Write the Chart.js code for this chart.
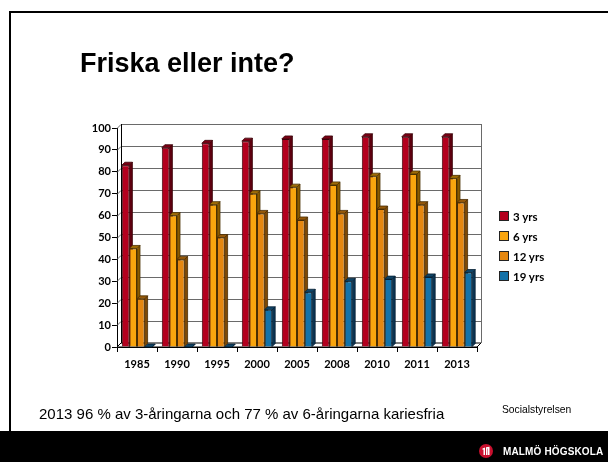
<!DOCTYPE html>
<html><head><meta charset="utf-8">
<script src="https://cdn.jsdelivr.net/npm/chart.js@4"></script>
<style>
html,body{margin:0;padding:0;background:#fff;}
#wrap{position:relative;width:608px;height:462px;overflow:hidden;background:#fff;}
#c{position:absolute;left:0;top:0;}
.abs{position:absolute;white-space:nowrap;}
#topline{left:9px;top:11px;width:599px;height:2px;background:#000;}
#leftline{left:9px;top:11px;width:2px;height:420px;background:#000;}
#footer{left:0;top:431px;width:608px;height:31px;background:#000;}
#title{left:80px;top:50px;font:bold 27px/27px "Liberation Sans",Arial,sans-serif;color:#000;}
#note{left:39px;top:406px;font:15px/15px "Liberation Sans",Arial,sans-serif;color:#000;}
#src{left:502px;top:405px;font:10.3px/10.3px "Liberation Sans",Arial,sans-serif;color:#000;}
#logoText{left:503px;top:447px;font:bold 10px/10px "Liberation Sans",Arial,sans-serif;color:#fff;letter-spacing:0.15px;}
#logo{left:479px;top:444px;width:14px;height:14px;border-radius:50%;background:#c8102e;}
#legend{left:499px;top:206px;font:bold 11.5px "Lato",sans-serif;color:#000;}
.li{height:20px;display:flex;align-items:center;}
.sw{width:8px;height:8px;border:1px solid #222;margin-right:4px;}
</style></head>
<body>
<div id="wrap">
  <canvas id="c" width="608" height="462"></canvas>
  <div class="abs" id="topline"></div>
  <div class="abs" id="leftline"></div>
  <div class="abs" id="title">Friska eller inte?</div>
  <div class="abs" id="legend"></div>
  <div class="abs" id="note">2013 96 % av 3-åringarna och 77 % av 6-åringarna kariesfria</div>
  <div class="abs" id="src">Socialstyrelsen</div>
  <div class="abs" id="footer"></div>
  <div class="abs" id="logo"><svg width="14" height="14" viewBox="0 0 14 14"><path d="M3.5 4.5 L6 3.5 L6 11 L4.5 11 L4.5 5.5 L3.5 5.8 Z M7 3.3 L10.5 2.8 L10.5 11 L9 11 L9 4.5 L8.5 4.6 L8.5 11 L7 11 Z" fill="#fff"/></svg></div>
  <div class="abs" id="logoText">MALMÖ HÖGSKOLA</div>
</div>
<script>
const categories = ['1985','1990','1995','2000','2005','2008','2010','2011','2013'];
const seriesNames = ['3 yrs','6 yrs','12 yrs','19 yrs'];
const yrs3  = [83, 91, 93, 94, 95, 95, 96, 96, 96];
const yrs6  = [45, 60, 65, 70, 73, 74, 78, 79, 77];
const yrs12 = [22, 40, 50, 61, 58, 61, 63, 65, 66];
const yrs19 = [0, 0, 0, 17, 25, 30, 31, 32, 34];
const yTicks = [0,10,20,30,40,50,60,70,80,90,100];

const frontColors = ['#B3001E','#F9A50E','#E5870F','#1472A8'];
const sideColors  = ['#5E000F','#8A5A00','#7F4A06','#0B3553'];
const topColors   = ['#7A0014','#A06C06','#955809','#0E4466'];
const edgeColors  = ['#3A0008','#4A3000','#4A2C02','#062033'];

const seriesValues = [yrs3, yrs6, yrs12, yrs19];

// legend (HTML text)
const leg = document.getElementById('legend');
seriesNames.forEach((n,i)=>{
  const d=document.createElement('div'); d.className='li';
  const s=document.createElement('div'); s.className='sw'; s.style.background=frontColors[i];
  const t=document.createElement('span'); t.textContent=n;
  d.appendChild(s); d.appendChild(t); leg.appendChild(d);
});

const WALL = 4, D = 3;
const threeD = {
  id: 'threeD',
  beforeDatasetsDraw(chart){
    const {ctx, chartArea:a, scales:{y}} = chart;
    ctx.save();
    ctx.lineWidth = 1;
    ctx.strokeStyle = '#6a6a6a';
    yTicks.forEach(v=>{
      const py = Math.round(y.getPixelForValue(v)) + 0.5;
      ctx.beginPath();
      ctx.moveTo(a.left, py);
      ctx.lineTo(a.left + WALL, py - WALL);
      ctx.lineTo(a.right + WALL, py - WALL);
      ctx.stroke();
    });
    ctx.beginPath();
    ctx.moveTo(a.right + WALL + 0.5, a.top - WALL);
    ctx.lineTo(a.right + WALL + 0.5, a.bottom - WALL);
    ctx.stroke();
    ctx.strokeStyle = '#000';
    ctx.beginPath();
    ctx.moveTo(a.left + WALL + 0.5, a.top - WALL);
    ctx.lineTo(a.left + WALL + 0.5, a.bottom - WALL);
    ctx.stroke();
    ctx.beginPath();
    ctx.moveTo(a.left, a.bottom);
    ctx.lineTo(a.left + WALL, a.bottom - WALL);
    ctx.lineTo(a.right + WALL, a.bottom - WALL);
    ctx.lineTo(a.right, a.bottom);
    ctx.closePath();
    ctx.fillStyle = '#fff';
    ctx.fill();
    ctx.stroke();

    // 3D side and top faces of bars, left to right within each category
    ctx.lineWidth = 0.8;
    const metas = seriesValues.map((_,i)=>chart.getDatasetMeta(i));
    categories.forEach((_,k)=>{
      metas.forEach((meta,i)=>{
        const bar = meta.data[k];
        const p = bar.getProps(['x','y','base','width'], true);
        const l = p.x - p.width/2, r = p.x + p.width/2;
        const t = p.y, b = p.base;
        ctx.strokeStyle = edgeColors[i];
        ctx.fillStyle = sideColors[i];
        ctx.beginPath();
        ctx.moveTo(r, t); ctx.lineTo(r + D, t - D); ctx.lineTo(r + D, b - D); ctx.lineTo(r, b);
        ctx.closePath(); ctx.fill(); ctx.stroke();
        ctx.fillStyle = topColors[i];
        ctx.beginPath();
        ctx.moveTo(l, t); ctx.lineTo(l + D, t - D); ctx.lineTo(r + D, t - D); ctx.lineTo(r, t);
        ctx.closePath(); ctx.fill(); ctx.stroke();
      });
    });
    ctx.restore();
  }
};

const tickFont = {family:'Lato', weight:'bold', size:11};

new Chart(document.getElementById('c'), {
  type:'bar',
  data:{
    labels: categories,
    datasets: seriesValues.map((vals,i)=>({
      label: seriesNames[i],
      data: vals,
      backgroundColor: frontColors[i],
      borderColor: edgeColors[i],
      borderWidth: 1,
      categoryPercentage: 0.76,
      barPercentage: 1.0
    }))
  },
  options:{
    responsive:false,
    animation:false,
    events:[],
    layout:{padding:{left:80, right:131, top:128, bottom:85}},
    plugins:{legend:{display:false}, tooltip:{enabled:false}, title:{display:false}},
    scales:{
      x:{
        grid:{display:true, drawOnChartArea:false, drawTicks:true, tickLength:5, color:'#000'},
        border:{display:true, color:'#000', width:1},
        ticks:{font:tickFont, color:'#000', padding:6, maxRotation:0},
        afterFit(s){ s.height = 30; }
      },
      y:{
        min:0, max:100,
        afterBuildTicks(s){ s.ticks = yTicks.map(v=>({value:v})); },
        grid:{display:true, drawOnChartArea:false, drawTicks:true, tickLength:5, color:'#000'},
        border:{display:true, color:'#000', width:1},
        ticks:{font:tickFont, color:'#000', padding:1},
        afterFit(s){ s.width = 37; }
      }
    }
  },
  plugins:[threeD]
});
</script>
</body></html>
